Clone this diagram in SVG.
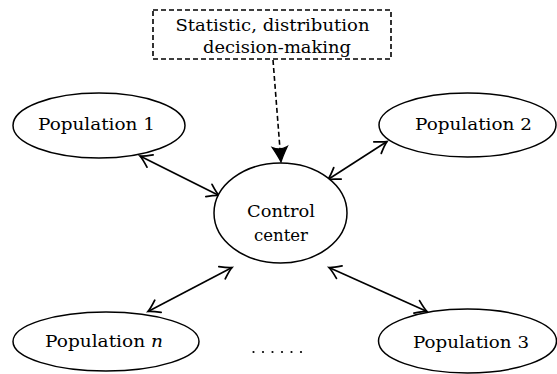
<svg xmlns="http://www.w3.org/2000/svg" width="557" height="374" viewBox="0 0 557 374">
<style>
.n{fill:#fff;stroke:#000;stroke-width:1.5}
.t{font-family:'DejaVu Serif','Liberation Serif',serif;font-size:17px;fill:#000;text-anchor:middle}
.c{stroke:#000;stroke-width:1.6;fill:none}
.d{stroke:#000;stroke-width:1.6;fill:none;stroke-dasharray:5 3}
</style>
<defs>
<marker id="oa" markerUnits="userSpaceOnUse" markerWidth="20" markerHeight="20" viewBox="-12 -8 14 16" refX="0" refY="0" orient="auto-start-reverse">
<path d="M-9,-5.5 Q-3,-1.2 0,0 Q-3,1.2 -9,5.5" fill="none" stroke="#000" stroke-width="1.4" stroke-linecap="round"/>
</marker>
<marker id="fa" markerUnits="userSpaceOnUse" markerWidth="20" markerHeight="20" viewBox="-14 -8 16 16" refX="0" refY="0" orient="auto">
<path d="M-12,-6 Q-4,-1.5 0,0 Q-4,1.5 -12,6 Q-9,0 -12,-6 Z" fill="#000" stroke="#000" stroke-width="1"/>
</marker>
</defs>
<g id="connectors">
<line class="c" x1="140" y1="156" x2="219" y2="195.5" marker-start="url(#oa)" marker-end="url(#oa)"/>
<line class="c" x1="387" y1="141.5" x2="328" y2="179.5" marker-start="url(#oa)" marker-end="url(#oa)"/>
<line class="c" x1="148" y1="311.5" x2="232" y2="267.5" marker-start="url(#oa)" marker-end="url(#oa)"/>
<line class="c" x1="329" y1="267.5" x2="427" y2="311.5" marker-start="url(#oa)" marker-end="url(#oa)"/>
<line class="d" x1="273" y1="60" x2="281" y2="162" marker-end="url(#fa)"/>
</g>
<g id="decision">
<rect x="153" y="10" width="238" height="49" fill="#fff" stroke="#000" stroke-width="1.6" stroke-dasharray="5 3"/>
<text class="t" x="272.5" y="31" textLength="194" lengthAdjust="spacingAndGlyphs">Statistic, distribution</text>
<text class="t" x="277" y="53" textLength="148" lengthAdjust="spacingAndGlyphs">decision-making</text>
</g>
<g id="control">
<ellipse class="n" cx="280.5" cy="213" rx="66.5" ry="50"/>
<text class="t" x="281" y="217" textLength="68" lengthAdjust="spacingAndGlyphs">Control</text>
<text class="t" x="281" y="241" textLength="54" lengthAdjust="spacingAndGlyphs">center</text>
</g>
<g id="pop1">
<ellipse class="n" cx="99" cy="125.5" rx="86" ry="32.5"/>
<text class="t" x="96.5" y="130" textLength="117" lengthAdjust="spacingAndGlyphs">Population 1</text>
</g>
<g id="pop2">
<ellipse class="n" cx="467.5" cy="125" rx="88.5" ry="32"/>
<text class="t" x="473.5" y="130" textLength="117" lengthAdjust="spacingAndGlyphs">Population 2</text>
</g>
<g id="popn">
<ellipse class="n" cx="106" cy="341.5" rx="93" ry="29.5"/>
<text class="t" x="104" y="347" textLength="118" lengthAdjust="spacingAndGlyphs">Population <tspan font-style="italic">n</tspan></text>
</g>
<g id="pop3">
<ellipse class="n" cx="467.5" cy="341" rx="89" ry="32"/>
<text class="t" x="471" y="348" textLength="116" lengthAdjust="spacingAndGlyphs">Population 3</text>
</g>
<g id="dots" fill="#000">
<circle cx="253.5" cy="352" r="1.1"/>
<circle cx="263" cy="352" r="1.1"/>
<circle cx="272.5" cy="352" r="1.1"/>
<circle cx="282" cy="352" r="1.1"/>
<circle cx="291.5" cy="352" r="1.1"/>
<circle cx="301" cy="352" r="1.1"/>
</g>
</svg>
